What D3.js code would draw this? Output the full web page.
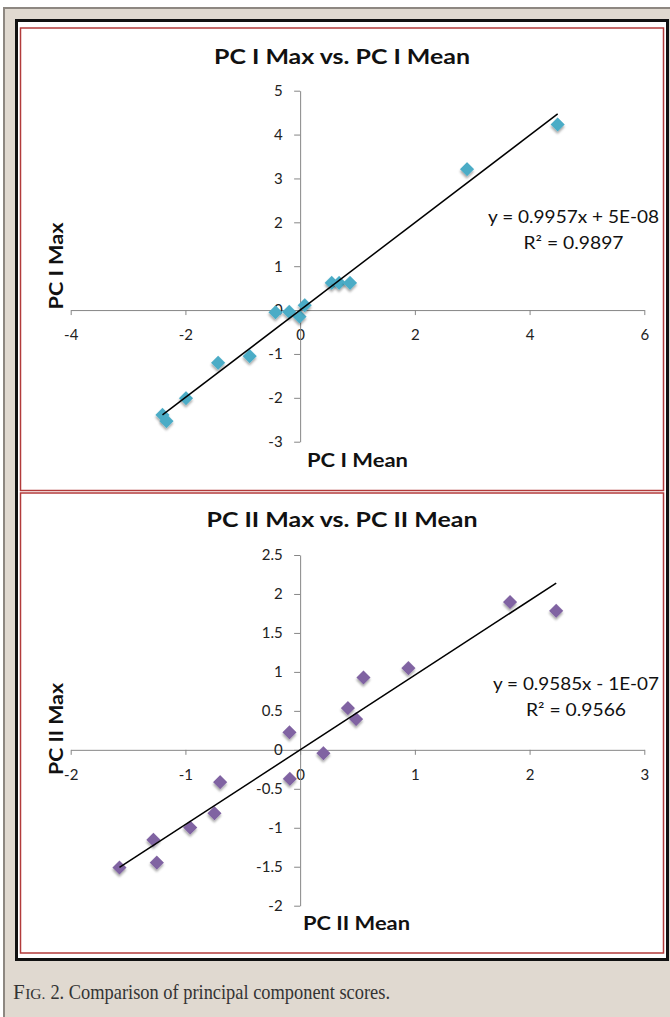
<!DOCTYPE html>
<html>
<head>
<meta charset="utf-8">
<script src="https://cdn.jsdelivr.net/npm/d3@7"></script>
<style>
  html, body { margin: 0; padding: 0; background: #ffffff; }
  svg { display: block; }
</style>
</head>
<body>
<svg id="chart" width="670" height="1017"></svg>
<script>
// ---------- DATA ----------
const pc1Mean = [-2.40, -2.33, -1.99, -1.43, -0.88, -0.43, -0.19, -0.01, 0.08, 0.55, 0.68, 0.87, 2.91, 4.49];
const pc1Max  = [-2.39, -2.53, -2.01, -1.20, -1.05, -0.05, -0.04, -0.15, 0.11, 0.62, 0.62, 0.62, 3.21, 4.23];
const pc1Fit  = [0.9957, 5e-8];
const pc1XTicks = [-4, -2, 0, 2, 4, 6];
const pc1YTicks = [-3, -2, -1, 0, 1, 2, 3, 4, 5];

const pc2Mean = [-1.575, -1.279, -1.249, -0.959, -0.747, -0.697, -0.09, -0.093, 0.203, 0.416, 0.488, 0.552, 0.944, 1.83, 2.232];
const pc2Max  = [-1.511, -1.155, -1.447, -0.997, -0.813, -0.415, -0.372, 0.225, -0.043, 0.535, 0.394, 0.928, 1.049, 1.896, 1.784];
const pc2Fit  = [0.9585, -1e-7];
const pc2XTicks = [-2, -1, 0, 1, 2, 3];
const pc2YTicks = [-2, -1.5, -1, -0.5, 0, 0.5, 1, 1.5, 2, 2.5];

const titles = ["PC I Max vs. PC I Mean", "PC II Max vs. PC II Mean"];
const xTitles = ["PC I Mean", "PC II Mean"];
const yTitles = ["PC I Max", "PC II Max"];
const eqLines = [["y = 0.9957x + 5E-08", "R² = 0.9897"], ["y = 0.9585x - 1E-07", "R² = 0.9566"]];
const captionParts = ["F", "IG.", "2. Comparison of principal component scores."];

// ---------- DRAW ----------
const svg = d3.select("#chart");
const FONT = "Lato, 'Open Sans', 'Noto Sans', sans-serif";
const SERIF = "'Liberation Serif', 'DejaVu Serif', serif";

const defs = svg.append("defs");
const f = defs.append("filter").attr("id", "shadow").attr("x", "-50%").attr("y", "-50%").attr("width", "200%").attr("height", "200%");
f.append("feDropShadow").attr("dx", 1.5).attr("dy", 1.8).attr("stdDeviation", 1.1)
  .attr("flood-color", "#000").attr("flood-opacity", 0.35);

// page background
svg.append("rect").attr("x", 4).attr("y", 8).attr("width", 670).attr("height", 1017)
  .attr("fill", "#e0d9d0").attr("stroke", "#8d8781").attr("stroke-width", 2);

// black frame
svg.append("rect").attr("x", 16.5).attr("y", 20.5).attr("width", 651).attr("height", 939)
  .attr("fill", "#ffffff").attr("stroke", "#111111").attr("stroke-width", 3);

// caption (three separate runs placed one after another)
{
  const capY = 999, capEnd = 390;
  let cx = 13;
  const t1 = svg.append("text").attr("x", cx).attr("y", capY).attr("font-family", SERIF)
    .attr("font-size", 21).attr("fill", "#333").text(captionParts[0]);
  cx += t1.node().getComputedTextLength() + 0.5;
  const t2 = svg.append("text").attr("x", cx).attr("y", capY).attr("font-family", SERIF)
    .attr("font-size", 15.5).attr("fill", "#333").text(captionParts[1]);
  cx += t2.node().getComputedTextLength() + 5;
  svg.append("text").attr("x", cx).attr("y", capY).attr("font-family", SERIF)
    .attr("font-size", 21).attr("fill", "#333")
    .attr("textLength", capEnd - cx).attr("lengthAdjust", "spacingAndGlyphs").text(captionParts[2]);
}

const panels = [
  { top: 28, bottom: 490.5, xs: pc1Mean, ys: pc1Max, fit: pc1Fit, xd: [-4, 6], yd: [-3, 5],
    yr: [441.7, 90.7], xt: pc1XTicks, yt: pc1YTicks, color: "#4bacc6",
    titleY: 64, titleW: 256, xTitleX: 307, xTitleY: 467, xTitleW: 101, yTitleC: 266, yTitleW: 87,
    eqX: 573.5, eqY: [222.5, 248.5], eqW: [171, 100] },
  { top: 493, bottom: 953, xs: pc2Mean, ys: pc2Max, fit: pc2Fit, xd: [-2, 3], yd: [-2, 2.5],
    yr: [905.7, 555], xt: pc2XTicks, yt: pc2YTicks, color: "#8064a2",
    titleY: 527, titleW: 271, xTitleX: 303, xTitleY: 930, xTitleW: 107, yTitleC: 729, yTitleW: 92,
    eqX: 576, eqY: [690, 716], eqW: [166, 100] }
];

panels.forEach((p, i) => {
  const g = svg.append("g");
  g.append("rect").attr("x", 20.5).attr("y", p.top).attr("width", 643).attr("height", p.bottom - p.top)
    .attr("fill", "#ffffff").attr("stroke", "#b23b3b").attr("stroke-width", 1.5);

  const x = d3.scaleLinear().domain(p.xd).range([70.7, 644.3]);
  const y = d3.scaleLinear().domain(p.yd).range(p.yr);

  // x axis
  const xa = g.append("g").attr("transform", `translate(0,${y(0)})`)
    .call(d3.axisBottom(x).tickValues(p.xt).tickSize(5).tickSizeOuter(0).tickFormat(d3.format("")));
  xa.select(".domain").attr("stroke", "#868686");
  xa.selectAll(".tick line").attr("stroke", "#868686");
  xa.selectAll(".tick text").attr("y", 30).attr("dy", 0)
    .attr("font-family", FONT).attr("font-size", 15).attr("fill", "#222");

  // y axis
  const ya = g.append("g").attr("transform", `translate(${x(0)},0)`)
    .call(d3.axisLeft(y).tickValues(p.yt).tickSize(6).tickSizeOuter(0).tickPadding(11.5).tickFormat(d3.format("")));
  ya.select(".domain").attr("stroke", "#868686");
  ya.selectAll(".tick line").attr("stroke", "#868686");
  ya.selectAll(".tick text").attr("font-family", FONT).attr("font-size", 15).attr("fill", "#222");
  xa.selectAll(".tick text").text(d => d3.format("")(d).replace("−", "-"));
  ya.selectAll(".tick text").text(d => d3.format("")(d).replace("−", "-"));

  // markers
  g.append("g").selectAll("path").data(p.xs.map((v, k) => [v, p.ys[k]])).join("path")
    .attr("d", d3.symbol(d3.symbolSquare, 100)())
    .attr("transform", d => `translate(${x(d[0])},${y(d[1])}) rotate(45)`)
    .attr("fill", p.color).attr("filter", "url(#shadow)");

  // trendline
  const [x0, x1] = d3.extent(p.xs);
  g.append("line")
    .attr("x1", x(x0)).attr("y1", y(p.fit[0] * x0 + p.fit[1]))
    .attr("x2", x(x1)).attr("y2", y(p.fit[0] * x1 + p.fit[1]))
    .attr("stroke", "#000").attr("stroke-width", 1.5);

  // titles
  g.append("text").attr("x", 342).attr("y", p.titleY).attr("text-anchor", "middle")
    .attr("font-family", FONT).attr("font-weight", "bold").attr("font-size", 21).attr("fill", "#111")
    .attr("textLength", p.titleW).attr("lengthAdjust", "spacingAndGlyphs").text(titles[i]);
  g.append("text").attr("x", p.xTitleX).attr("y", p.xTitleY)
    .attr("font-family", FONT).attr("font-weight", "bold").attr("font-size", 19).attr("fill", "#111")
    .attr("textLength", p.xTitleW).attr("lengthAdjust", "spacingAndGlyphs").text(xTitles[i]);
  g.append("text").attr("transform", `translate(63,${p.yTitleC}) rotate(-90)`).attr("text-anchor", "middle")
    .attr("font-family", FONT).attr("font-weight", "bold").attr("font-size", 19).attr("fill", "#111")
    .attr("textLength", p.yTitleW).attr("lengthAdjust", "spacingAndGlyphs").text(yTitles[i]);

  // equation
  eqLines[i].forEach((t, k) => {
    g.append("text").attr("x", p.eqX).attr("y", p.eqY[k]).attr("text-anchor", "middle")
      .attr("font-family", FONT).attr("font-size", 17).attr("fill", "#111")
      .attr("textLength", p.eqW[k]).attr("lengthAdjust", "spacingAndGlyphs").text(t);
  });
});
</script>
</body>
</html>
